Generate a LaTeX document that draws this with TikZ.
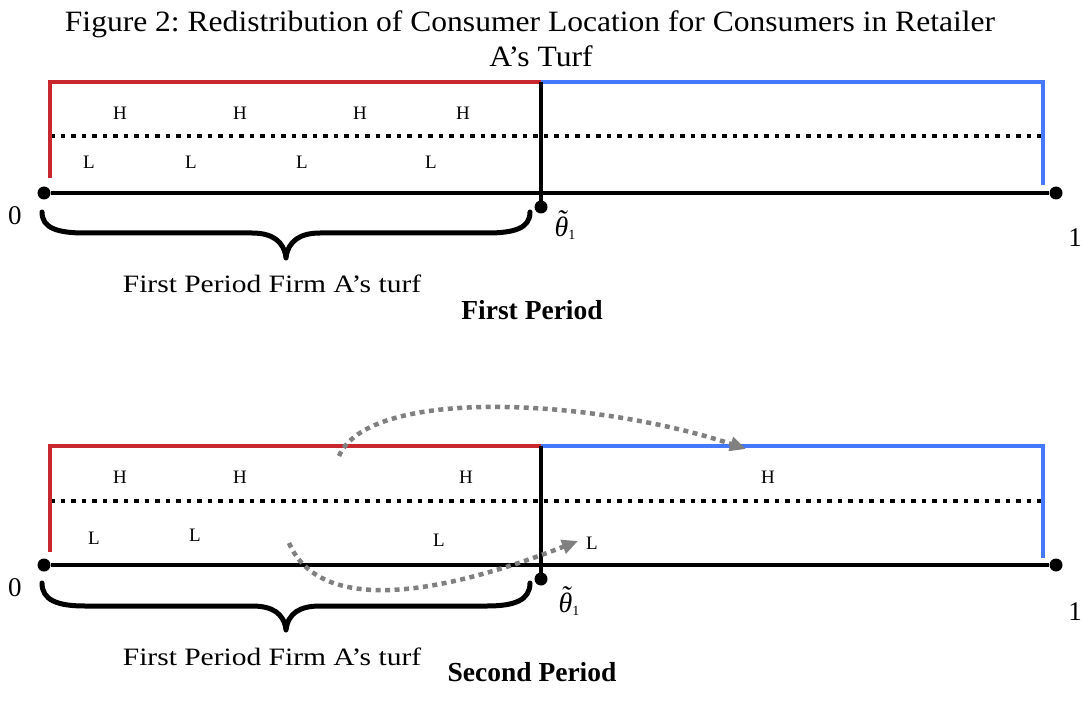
\documentclass[tikz,border=0pt]{standalone}
\usepackage{fontspec}
\setmainfont{Liberation Serif}
\newfontfamily\titlefont[FakeStretch=1.07]{Liberation Serif}
\newfontfamily\palfont[FakeStretch=1.18]{Liberation Serif}
\usetikzlibrary{arrows.meta}
\definecolor{redl}{RGB}{200,40,45}
\definecolor{bluel}{RGB}{70,120,250}
\definecolor{grayl}{RGB}{128,128,128}
\frenchspacing
\newcommand{\thtilde}{{\itshape\ooalign{θ\cr\hidewidth\raisebox{0.24em}{\char"02DC}\hidewidth\cr}}\raisebox{-0.12em}{\upshape\fontsize{14}{14}\selectfont 1}}
\begin{document}
\begin{tikzpicture}[x=1pt,y=-1pt,
  axisline/.style={line width=4.5pt, black},
  redline/.style={line width=4pt, redl},
  blueline/.style={line width=4pt, bluel},
  hlline/.style={line width=4pt, black, dash pattern=on 4.5pt off 6pt},
  moveline/.style={line width=4.5pt, grayl, dash pattern=on 5pt off 4.5pt, -{Triangle[length=16pt,width=14pt]}},
  dotnode/.style={circle, fill=black, inner sep=0pt, minimum size=13pt},
  lab/.style={font=\fontsize{19}{22}\selectfont, inner sep=0pt},
  bracepath/.style={line width=5pt, black, line cap=round, line join=round},
  turf/.style={font=\palfont\fontsize{25}{30}\selectfont, inner sep=0pt},
  endlab/.style={font=\fontsize{27}{30}\selectfont, inner sep=0pt},
  thlab/.style={font=\fontsize{28}{32}\selectfont, inner sep=0pt},
  period/.style={font=\fontsize{27.5}{30}\selectfont\bfseries, inner sep=0pt},
  titlestyle/.style={font=\titlefont\fontsize{29.5}{32}\selectfont, inner sep=0pt}
]
\useasboundingbox (0,0) rectangle (1083,711);
\fill[white] (0,0) rectangle (1083,711);

% title
\node[titlestyle] (t1) at (530,24) {Figure 2: Redistribution of Consumer Location for Consumers in Retailer};
\node[titlestyle] (t2) at (541,56) {A’s Turf};

% ===== First period =====
\coordinate (r1b) at (50,178);
\coordinate (r1c) at (50,82);
\coordinate (m1t) at (541,82);
\coordinate (b1c) at (1043,82);
\coordinate (b1b) at (1043,185);
\coordinate (d1s) at (50,136);
\coordinate (d1e) at (1043,136);
\draw[hlline] (d1s) -- (d1e);
\draw[redline] (r1b) -- (r1c) -- (m1t);
\draw[blueline] (m1t) -- (b1c) -- (b1b);
\node[dotnode] (o1) at (44,193) {};
\node[dotnode] (e1) at (1056,193) {};
\node[dotnode] (th1) at (541,207) {};
\draw[axisline] (o1) -- (e1);
\draw[axisline] (m1t) -- (th1.center);

\node[lab] (h11) at (120,113) {H};
\node[lab] (h12) at (240,113) {H};
\node[lab] (h13) at (360,113) {H};
\node[lab] (h14) at (463,113) {H};
\node[lab] (l11) at (89,162) {L};
\node[lab] (l12) at (191,162) {L};
\node[lab] (l13) at (302,162) {L};
\node[lab] (l14) at (431,162) {L};

\node[endlab] (z1) at (15,216) {0};
\node[endlab] (u1) at (1075,238) {1};
\node[thlab] (tl1) at (565,228) {\thtilde};

\draw[bracepath] (42,212) .. controls (42,228) and (57,233) .. (85,233) -- (252,233)
  .. controls (272,233) and (284,241) .. (286,258)
  .. controls (288,241) and (300,233) .. (320,233) -- (487,233)
  .. controls (515,233) and (530,228) .. (530,212);
\node[turf] (f1) at (272,284) {First Period Firm A’s turf};
\node[period] (p1) at (532,310) {First Period};

% ===== Second period =====
\coordinate (r2b) at (50,552);
\coordinate (r2c) at (50,446);
\coordinate (m2t) at (541,446);
\coordinate (b2c) at (1043,446);
\coordinate (b2b) at (1043,558);
\coordinate (d2s) at (50,501);
\coordinate (d2e) at (1043,501);
\draw[hlline] (d2s) -- (d2e);
\draw[redline] (r2b) -- (r2c) -- (m2t);
\draw[blueline] (m2t) -- (b2c) -- (b2b);
\node[dotnode] (o2) at (44,565) {};
\node[dotnode] (e2) at (1056,565) {};
\node[dotnode] (th2) at (541,579) {};
\draw[axisline] (o2) -- (e2);
\draw[axisline] (m2t) -- (th2.center);

\node[lab] (h21) at (120,477) {H};
\node[lab] (h22) at (240,477) {H};
\node[lab] (h23) at (466,477) {H};
\node[lab] (h24) at (768,477) {H};
\node[lab] (l21) at (94,538) {L};
\node[lab] (l22) at (195,535) {L};
\node[lab] (l23) at (439,540) {L};
\node[lab] (l24) at (592,543) {L};

\coordinate (a1s) at (339,456);
\coordinate (a1e) at (746,449);
\draw[moveline] (a1s) .. controls (370,385) and (600,400) .. (a1e);
\coordinate (a2s) at (289,543);
\coordinate (a2e) at (578,541);
\draw[moveline] (a2s) .. controls (320,615) and (440,595) .. (a2e);

\node[endlab] (z2) at (15,588) {0};
\node[endlab] (u2) at (1075,612) {1};
\node[thlab] (tl2) at (569,604) {\thtilde};

\draw[bracepath] (42,583) .. controls (42,600) and (57,606) .. (85,606) -- (252,606)
  .. controls (272,606) and (284,613) .. (286,630)
  .. controls (288,613) and (300,606) .. (320,606) -- (487,606)
  .. controls (515,606) and (530,600) .. (530,583);
\node[turf] (f2) at (272,657) {First Period Firm A’s turf};
\node[period] (p2) at (532,672) {Second Period};
\end{tikzpicture}
\end{document}
